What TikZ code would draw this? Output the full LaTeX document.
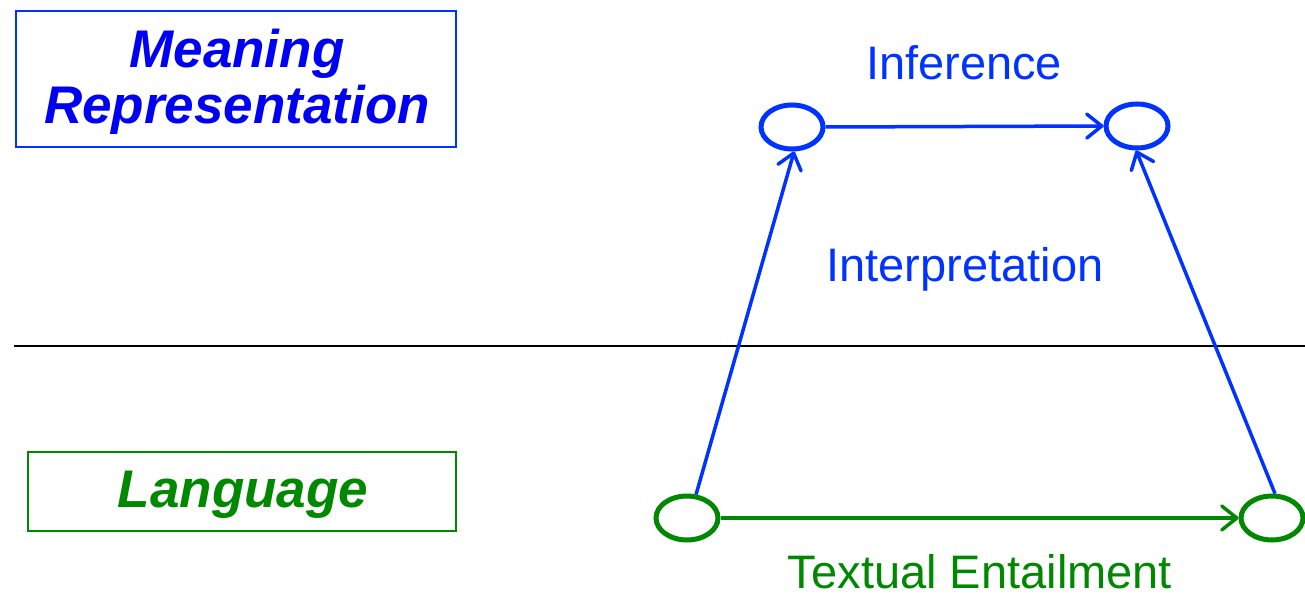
\documentclass[tikz,border=0pt]{standalone}
\usepackage{fontspec}
\setmainfont{Liberation Sans}
\usetikzlibrary{shapes.geometric,arrows.meta}
\definecolor{txtblue}{RGB}{0,0,245}
\definecolor{lnblue}{RGB}{0,51,255}
\definecolor{grn}{RGB}{0,136,0}
\tikzset{
  state/.style={ellipse,draw,line width=5pt,minimum width=62pt,minimum height=44pt,inner sep=0pt},
  conn/.style={line width=3.5pt,-{Straight Barb[length=15pt,width=24pt,line cap=round,line join=round]}},
  bigbold/.style={font=\fontsize{53}{56}\selectfont\bfseries\itshape,align=center},
  lbl/.style={font=\fontsize{47}{52}\selectfont,anchor=base,inner sep=0pt},
  framebox/.style={draw,line width=2.2pt}
}
\begin{document}
\begin{tikzpicture}[x=1pt,y=-1pt]
\useasboundingbox (0,0) rectangle (1305,599);
% boxes
\draw[framebox,lnblue] (16,11) rectangle (456,147);
\node[bigbold,txtblue,anchor=base] (mean) at (237,68) {Meaning};
\node[bigbold,txtblue,anchor=base] (repr) at (237,124) {Representation};
\draw[framebox,grn] (28,452) rectangle (456,531);
\node[bigbold,grn,anchor=base] (lang) at (243,507) {Language};
% separator
\coordinate (sepL) at (14,346);
\coordinate (sepR) at (1305,346);
\draw[line width=2pt,black] (sepL) -- (sepR);
% states
\node[state,lnblue] (tl) at (792,127) {};
\node[state,lnblue] (tr) at (1137,126) {};
\node[state,grn] (bl) at (687,518) {};
\node[state,grn] (br) at (1272,518) {};
% connectors
\draw[conn,lnblue] (tl.east) -- (tr.west);
\draw[conn,lnblue] (bl.69) -- (tl.-85);
\draw[conn,lnblue] (br.83) -- (tr.-92);
\draw[conn,grn] (bl.east) -- (br.west);
% labels
\node[lbl,lnblue] (inf) at (964,80) {Inference};
\node[lbl,lnblue] (interp) at (965,281) {Interpretation};
\node[lbl,grn,text depth=0pt] (te) at (980,588) {Textual Entailment};
\end{tikzpicture}
\end{document}
